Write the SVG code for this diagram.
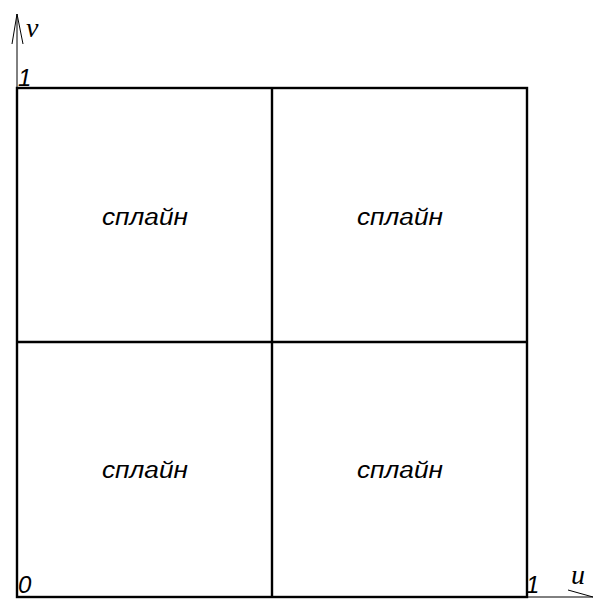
<svg xmlns="http://www.w3.org/2000/svg" width="593" height="602" viewBox="0 0 593 602">
<style>
.grid{fill:none;stroke:#000;stroke-width:2.4}
.ax{fill:none;stroke:#000;stroke-width:1}
.lbl{font-family:"Liberation Sans",Arial,sans-serif;font-style:italic;font-size:23px;fill:#000;text-anchor:middle}
.num{font-family:"Liberation Sans",Arial,sans-serif;font-style:italic;font-size:24px;fill:#000}
.var{font-family:"Liberation Serif","Times New Roman",serif;font-style:italic;font-size:28px;fill:#000}
</style>
<rect width="593" height="602" fill="#fff"/>
<g id="axes" class="ax">
<line x1="17" y1="88" x2="17" y2="14"/>
<polyline points="12,44 17,14 23,44"/>
<line x1="527" y1="597" x2="593" y2="597"/>
<line x1="568" y1="590" x2="593" y2="597"/>
</g>
<g id="grid" class="grid">
<rect x="17" y="88" width="510" height="509"/>
<line x1="272" y1="88" x2="272" y2="597"/>
<line x1="17" y1="342" x2="527" y2="342"/>
</g>
<g id="cell-tl"><text class="lbl" x="145" y="225" textLength="86" lengthAdjust="spacingAndGlyphs">сплайн</text></g>
<g id="cell-tr"><text class="lbl" x="400" y="225" textLength="86" lengthAdjust="spacingAndGlyphs">сплайн</text></g>
<g id="cell-bl"><text class="lbl" x="145" y="478" textLength="86" lengthAdjust="spacingAndGlyphs">сплайн</text></g>
<g id="cell-br"><text class="lbl" x="400" y="478" textLength="86" lengthAdjust="spacingAndGlyphs">сплайн</text></g>
<text class="var" x="26" y="37">v</text>
<text class="num" x="18" y="86">1</text>
<text class="num" x="18" y="593">0</text>
<text class="num" x="526" y="593">1</text>
<text class="var" x="571" y="584">u</text>
</svg>
